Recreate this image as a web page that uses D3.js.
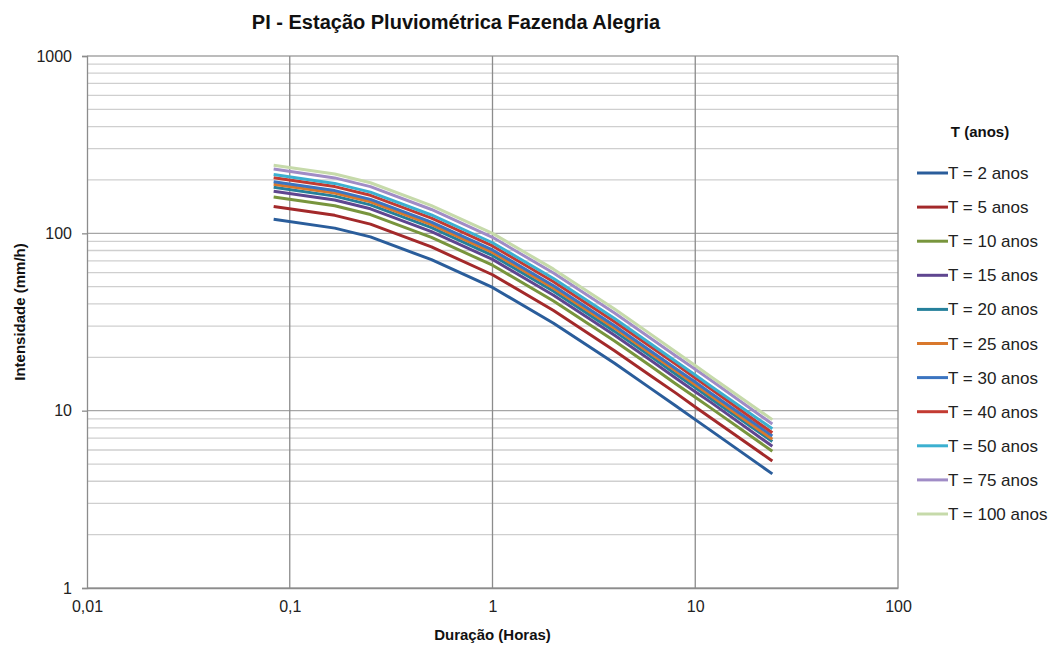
<!DOCTYPE html>
<html>
<head>
<meta charset="utf-8">
<script src="https://cdn.jsdelivr.net/npm/d3@7"></script>
<style>
  body { margin: 0; background: #fff; }
  svg { font-family: 'Liberation Sans', Arial, sans-serif; }
</style>
</head>
<body>
<script>
// duration in hours
const duracao = [0.0833, 0.1667, 0.25, 0.5, 1, 2, 4, 6, 8, 10, 12, 24];

// intensity (mm/h), one array per return period
const t2 = [120, 107, 95.5, 71, 49.5, 31.1, 18.5, 13.4, 10.65, 8.9, 7.69, 4.4];
const t5 = [141.6, 126.3, 112.7, 83.8, 58.4, 36.7, 21.8, 15.8, 12.6, 10.5, 9.07, 5.2];
const t10 = [160.3, 143.0, 127.6, 94.9, 66.1, 41.5, 24.7, 17.9, 14.2, 11.9, 10.3, 5.9];
const t15 = [172.8, 154.1, 137.5, 102.2, 71.3, 44.8, 26.6, 19.3, 15.3, 12.8, 11.1, 6.3];
const t20 = [181.8, 162.1, 144.7, 107.6, 75.0, 47.1, 28.0, 20.3, 16.1, 13.5, 11.65, 6.7];
const t25 = [189.2, 168.7, 150.6, 112.0, 78.1, 49.0, 29.2, 21.1, 16.8, 14.0, 12.1, 6.9];
const t30 = [195.4, 174.2, 155.5, 115.6, 80.6, 50.6, 30.1, 21.8, 17.3, 14.5, 12.5, 7.2];
const t40 = [205.8, 183.5, 163.8, 121.8, 84.9, 53.3, 31.7, 23.0, 18.3, 15.3, 13.2, 7.5];
const t50 = [214.4, 191.2, 170.7, 126.9, 88.5, 55.6, 33.1, 23.9, 19.0, 15.9, 13.7, 7.9];
const t75 = [230.4, 205.4, 183.4, 136.3, 95.0, 59.7, 35.5, 25.7, 20.4, 17.1, 14.8, 8.4];
const t100 = [242.4, 216.1, 192.9, 143.4, 100.0, 62.8, 37.4, 27.1, 21.5, 18.0, 15.5, 8.9];

const legendas = ['T = 2 anos', 'T = 5 anos', 'T = 10 anos', 'T = 15 anos', 'T = 20 anos',
  'T = 25 anos', 'T = 30 anos', 'T = 40 anos', 'T = 50 anos', 'T = 75 anos', 'T = 100 anos'];
const xTicks = [0.01, 0.1, 1, 10, 100];
const yTicks = [1, 10, 100, 1000];

const cores = ['#2a5d9b', '#a3292a', '#78953d', '#5f4690', '#25809b', '#d9782c',
  '#3b74c0', '#c33b32', '#3cb0d0', '#a08cc6', '#c6daaa'];

const series = [t2, t5, t10, t15, t20, t25, t30, t40, t50, t75, t100].map((v, i) => ({
  nome: legendas[i],
  cor: cores[i],
  pontos: duracao.map((d, j) => ({ d: d, v: v[j] })),
}));

// canvas
const width = 1053;
const height = 646;
const margin = { top: 56, left: 87, bottom: 58, right: 155 };

const svg = d3.select('body').append('svg').attr('width', width).attr('height', height);

const x = d3.scaleLog().domain([0.01, 100]).range([margin.left, width - margin.right]);
const y = d3.scaleLog().domain([1, 1000]).range([height - margin.bottom, margin.top]);

// grid
svg.append('g')
  .selectAll('line')
  .data(y.ticks())
  .enter()
  .append('line')
  .attr('x1', x(0.01))
  .attr('x2', x(100))
  .attr('y1', (d) => y(d))
  .attr('y2', (d) => y(d))
  .attr('stroke', (d) => (yTicks.includes(d) ? '#a6a6a6' : '#cfcfcf'))
  .attr('stroke-width', 1.3);

svg.append('g')
  .selectAll('line')
  .data(xTicks.slice(1))
  .enter()
  .append('line')
  .attr('x1', (d) => x(d))
  .attr('x2', (d) => x(d))
  .attr('y1', y(1))
  .attr('y2', y(1000))
  .attr('stroke', '#8c8c8c')
  .attr('stroke-width', 1.3);

// axes
const yAxis = (g) =>
  g
    .attr('transform', `translate(${margin.left}, 0)`)
    .call(d3.axisLeft(y).tickValues(yTicks).tickFormat(d3.format('d')).tickSize(5).tickPadding(10))
    .call((g) => g.selectAll('line, .domain').attr('stroke', '#8c8c8c').attr('stroke-width', 1.3))
    .call((g) => g.selectAll('text').attr('font-size', '16px').attr('fill', '#222').attr('font-family', null));

const xAxis = (g) =>
  g
    .attr('transform', `translate(0, ${y(1)})`)
    .call(d3.axisBottom(x).tickValues(xTicks).tickFormat((d) => String(d).replace('.', ',')).tickSize(0).tickPadding(13))
    .call((g) => g.select('.domain').attr('stroke', '#8c8c8c').attr('stroke-width', 1.3))
    .call((g) => g.selectAll('text').attr('font-size', '16px').attr('fill', '#222').attr('font-family', null));

svg.append('g').call(yAxis);
svg.append('g').call(xAxis);

// lines
const line = d3
  .line()
  .x((d) => x(d.d))
  .y((d) => y(d.v));

svg.append('g')
  .selectAll('path')
  .data(series)
  .enter()
  .append('path')
  .attr('fill', 'none')
  .attr('stroke', (d) => d.cor)
  .attr('stroke-width', 3)
  .attr('stroke-linejoin', 'round')
  .attr('d', (d) => line(d.pontos));

// titles
svg.append('text')
  .text('PI - Estação Pluviométrica Fazenda Alegria')
  .attr('x', 456)
  .attr('y', 29)
  .attr('text-anchor', 'middle')
  .attr('font-size', '20px')
  .attr('font-weight', 'bold')
  .attr('fill', '#111');

svg.append('text')
  .text('Duração (Horas)')
  .attr('x', x(1))
  .attr('y', 640)
  .attr('text-anchor', 'middle')
  .attr('font-size', '15px')
  .attr('font-weight', 'bold')
  .attr('fill', '#111');

svg.append('text')
  .text('Intensidade (mm/h)')
  .attr('transform', `translate(25, ${y(Math.sqrt(1000)) - 10}) rotate(-90)`)
  .attr('text-anchor', 'middle')
  .attr('font-size', '15px')
  .attr('font-weight', 'bold')
  .attr('fill', '#111');

// legend
const legend = svg.append('g');
legend.append('text')
  .text('T (anos)')
  .attr('x', 980)
  .attr('y', 137)
  .attr('text-anchor', 'middle')
  .attr('font-size', '15px')
  .attr('font-weight', 'bold')
  .attr('fill', '#111');

const item = legend
  .selectAll('g.item')
  .data(series)
  .enter()
  .append('g')
  .attr('class', 'item')
  .attr('transform', (d, i) => `translate(917, ${173 + i * 34.1})`);

item.append('line')
  .attr('x1', 0)
  .attr('x2', 31)
  .attr('stroke', (d) => d.cor)
  .attr('stroke-width', 3);

item.append('text')
  .text((d) => d.nome)
  .attr('x', 31)
  .attr('y', 6)
  .attr('font-size', '17px')
  .attr('fill', '#222');
</script>
</body>
</html>
